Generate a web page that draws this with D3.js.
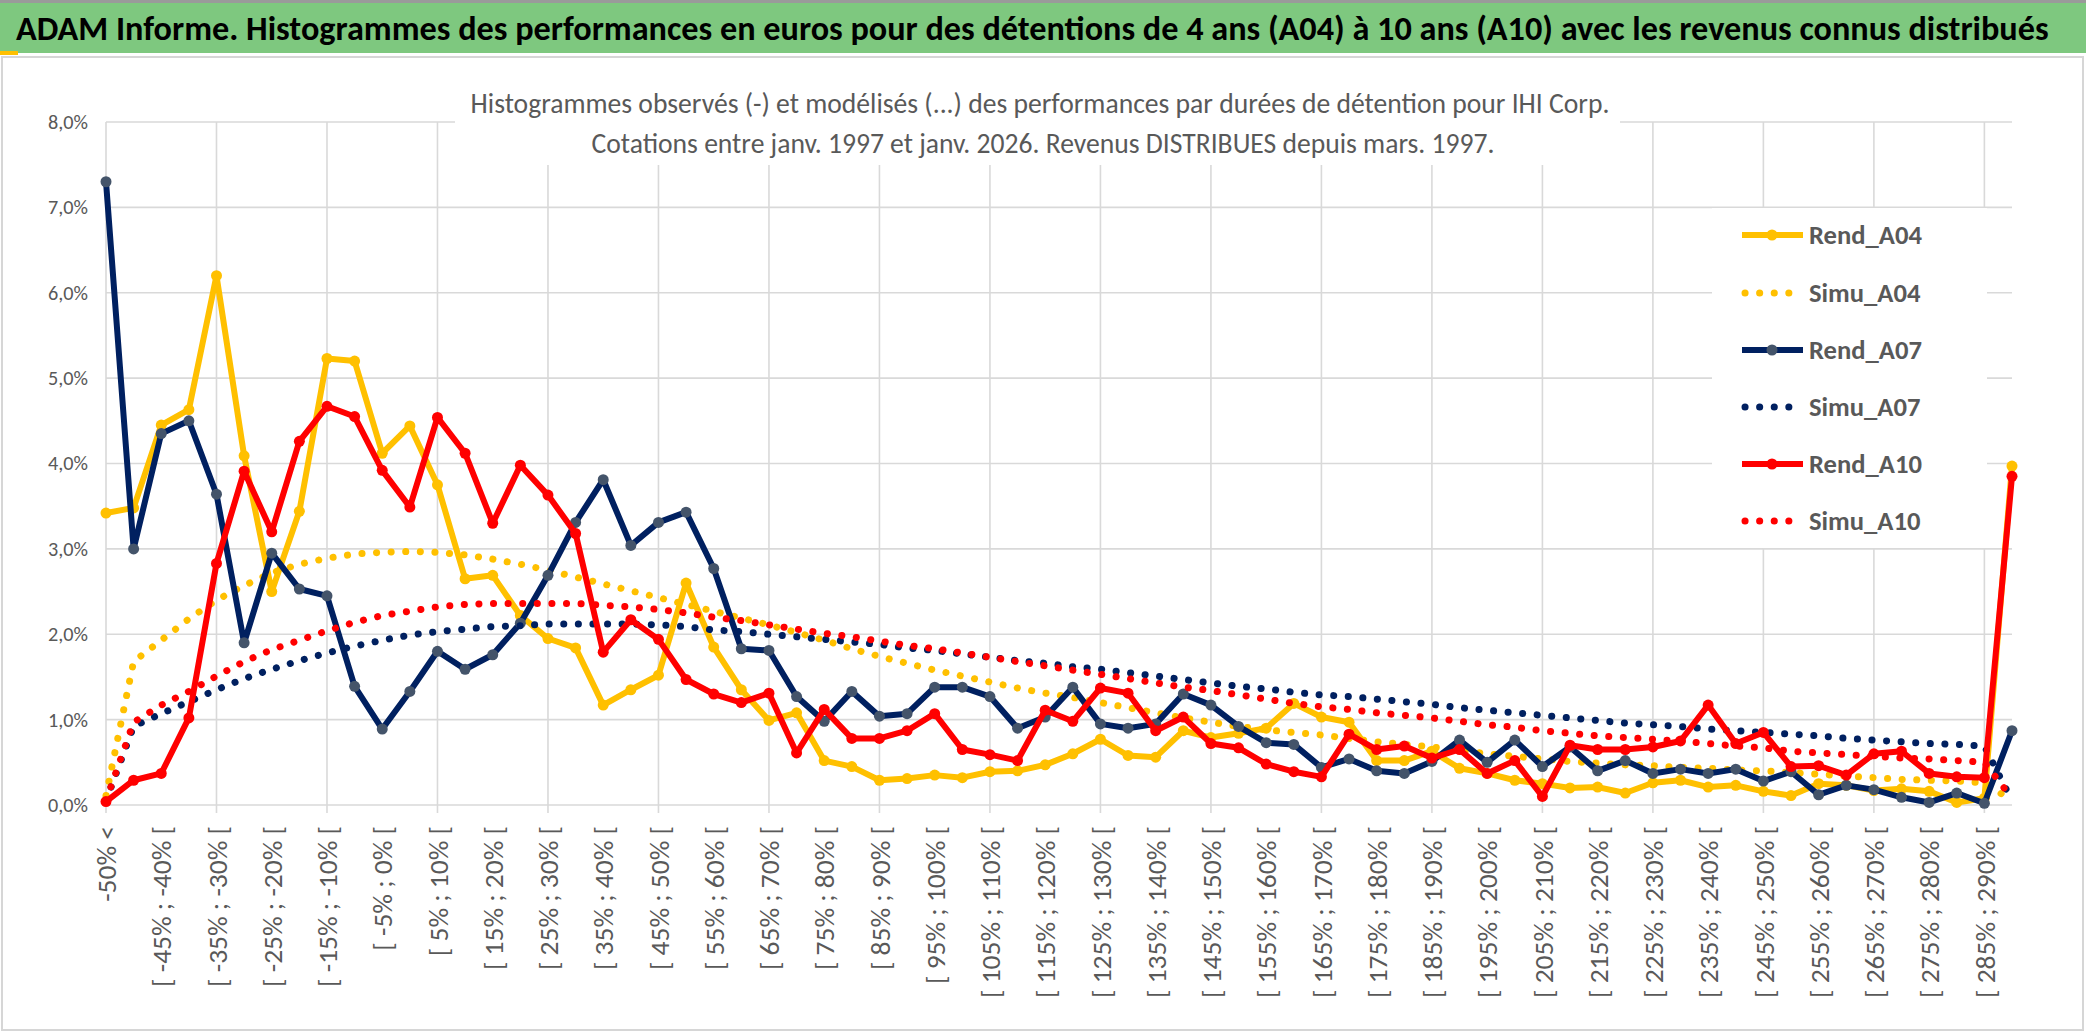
<!DOCTYPE html>
<html><head><meta charset="utf-8">
<script src="https://cdn.jsdelivr.net/npm/d3@7"></script>
<style>body{margin:0;background:#fff;} svg{display:block}</style>
</head><body>
<svg id="c" width="2086" height="1033"></svg>
<script>
const categories = ["-50% <","[ -50% ; -45% [","[ -45% ; -40% [","[ -40% ; -35% [","[ -35% ; -30% [","[ -30% ; -25% [","[ -25% ; -20% [","[ -20% ; -15% [","[ -15% ; -10% [","[ -10% ; -5% [",
"[ -5% ; 0% [","[ 0% ; 5% [","[ 5% ; 10% [","[ 10% ; 15% [","[ 15% ; 20% [","[ 20% ; 25% [","[ 25% ; 30% [","[ 30% ; 35% [","[ 35% ; 40% [","[ 40% ; 45% [",
"[ 45% ; 50% [","[ 50% ; 55% [","[ 55% ; 60% [","[ 60% ; 65% [","[ 65% ; 70% [","[ 70% ; 75% [","[ 75% ; 80% [","[ 80% ; 85% [","[ 85% ; 90% [","[ 90% ; 95% [",
"[ 95% ; 100% [","[ 100% ; 105% [","[ 105% ; 110% [","[ 110% ; 115% [","[ 115% ; 120% [","[ 120% ; 125% [","[ 125% ; 130% [","[ 130% ; 135% [","[ 135% ; 140% [","[ 140% ; 145% [",
"[ 145% ; 150% [","[ 150% ; 155% [","[ 155% ; 160% [","[ 160% ; 165% [","[ 165% ; 170% [","[ 170% ; 175% [","[ 175% ; 180% [","[ 180% ; 185% [","[ 185% ; 190% [","[ 190% ; 195% [",
"[ 195% ; 200% [","[ 200% ; 205% [","[ 205% ; 210% [","[ 210% ; 215% [","[ 215% ; 220% [","[ 220% ; 225% [","[ 225% ; 230% [","[ 230% ; 235% [","[ 235% ; 240% [","[ 240% ; 245% [",
"[ 245% ; 250% [","[ 250% ; 255% [","[ 255% ; 260% [","[ 260% ; 265% [","[ 265% ; 270% [","[ 270% ; 275% [","[ 275% ; 280% [","[ 280% ; 285% [","[ 285% ; 290% [","> 290%"];

const rendA04 = [3.42,3.48,4.45,4.63,6.20,4.09,2.50,3.44,5.23,5.20,
4.12,4.44,3.75,2.65,2.69,2.22,1.95,1.84,1.17,1.35,
1.52,2.60,1.85,1.35,0.99,1.08,0.52,0.45,0.29,0.31,
0.35,0.32,0.39,0.40,0.47,0.60,0.77,0.58,0.56,0.87,
0.79,0.84,0.90,1.19,1.03,0.97,0.52,0.52,0.63,0.43,
0.37,0.29,0.25,0.20,0.21,0.14,0.26,0.29,0.21,0.23,
0.16,0.11,0.25,0.23,0.17,0.19,0.16,0.03,0.08,3.97];
const simuA04 = [0.11,1.68,1.93,2.18,2.40,2.57,2.72,2.82,2.89,2.94,
2.96,2.97,2.96,2.93,2.88,2.82,2.75,2.67,2.59,2.51,
2.43,2.35,2.27,2.19,2.11,2.02,1.93,1.83,1.74,1.66,
1.58,1.51,1.44,1.37,1.31,1.26,1.20,1.14,1.08,1.02,
0.97,0.92,0.88,0.85,0.82,0.78,0.74,0.71,0.68,0.64,
0.60,0.57,0.54,0.51,0.49,0.47,0.46,0.44,0.43,0.41,
0.40,0.38,0.36,0.34,0.32,0.30,0.29,0.28,0.26,0.05];
const rendA07 = [7.30,3.00,4.35,4.50,3.64,1.90,2.95,2.53,2.45,1.39,
0.89,1.33,1.80,1.59,1.76,2.13,2.69,3.31,3.81,3.04,
3.31,3.43,2.77,1.83,1.81,1.27,0.98,1.33,1.04,1.07,
1.38,1.38,1.27,0.90,1.03,1.38,0.95,0.90,0.95,1.30,
1.17,0.92,0.73,0.71,0.44,0.54,0.40,0.37,0.51,0.76,
0.50,0.76,0.45,0.68,0.40,0.52,0.37,0.42,0.37,0.42,
0.28,0.39,0.12,0.23,0.18,0.09,0.03,0.14,0.02,0.87];
const simuA07 = [0.05,0.92,1.07,1.21,1.35,1.48,1.59,1.69,1.78,1.86,
1.93,1.99,2.03,2.06,2.09,2.10,2.12,2.12,2.12,2.12,
2.11,2.09,2.05,2.03,2.00,1.97,1.94,1.91,1.88,1.84,
1.81,1.77,1.73,1.69,1.66,1.62,1.59,1.55,1.51,1.47,
1.43,1.39,1.36,1.32,1.29,1.27,1.24,1.21,1.18,1.14,
1.11,1.08,1.05,1.02,0.99,0.96,0.94,0.92,0.89,0.87,
0.85,0.83,0.81,0.78,0.76,0.74,0.72,0.71,0.69,0.05];
const rendA10 = [0.04,0.29,0.37,1.02,2.83,3.91,3.20,4.26,4.67,4.55,
3.92,3.49,4.54,4.12,3.30,3.98,3.63,3.18,1.79,2.17,
1.94,1.47,1.30,1.20,1.31,0.61,1.12,0.78,0.78,0.87,
1.07,0.65,0.59,0.52,1.11,0.98,1.37,1.31,0.87,1.03,
0.72,0.67,0.48,0.39,0.33,0.83,0.65,0.69,0.55,0.65,
0.37,0.52,0.10,0.70,0.65,0.65,0.68,0.75,1.17,0.72,
0.85,0.45,0.46,0.35,0.60,0.63,0.37,0.33,0.32,3.85];
const simuA10 = [0.05,0.97,1.17,1.33,1.51,1.68,1.82,1.93,2.04,2.14,
2.22,2.27,2.32,2.35,2.36,2.36,2.36,2.36,2.34,2.32,
2.29,2.25,2.20,2.16,2.11,2.06,2.01,1.97,1.92,1.87,
1.83,1.78,1.73,1.68,1.63,1.58,1.53,1.48,1.43,1.38,
1.34,1.29,1.24,1.19,1.15,1.12,1.08,1.05,1.02,0.98,
0.94,0.91,0.87,0.84,0.81,0.79,0.77,0.75,0.72,0.69,
0.67,0.63,0.61,0.59,0.57,0.55,0.54,0.52,0.50,0.08];

const yTicks = [0,1,2,3,4,5,6,7,8];
const seriesNames = ["Rend_A04","Simu_A04","Rend_A07","Simu_A07","Rend_A10","Simu_A10"];
const titleText = "ADAM Informe. Histogrammes des performances en euros pour des détentions de 4 ans (A04) à 10 ans (A10) avec les revenus connus distribués";
const subtitle1 = "Histogrammes observés (-) et modélisés (...) des performances par durées de détention pour IHI Corp.";
const subtitle2 = "Cotations entre janv. 1997 et janv. 2026. Revenus DISTRIBUES depuis mars. 1997.";

const series = [
  {name: seriesNames[0], values: rendA04, color: "#FFC000", marker: "#FFC000", dotted: false},
  {name: seriesNames[1], values: simuA04, color: "#FFC000", dotted: true},
  {name: seriesNames[2], values: rendA07, color: "#002060", marker: "#44546A", dotted: false},
  {name: seriesNames[3], values: simuA07, color: "#002060", dotted: true},
  {name: seriesNames[4], values: rendA10, color: "#FF0000", marker: "#FF0000", dotted: false},
  {name: seriesNames[5], values: simuA10, color: "#FF0000", dotted: true}
];

const FONT = "Carlito, Calibri, Lato, 'Open Sans', sans-serif";
const TXT = "#595959";
const GRID = "#d9d9d9";
const svg = d3.select("#c");
const W = 2086, H = 1033;

function fit(sel, target) {
  const s = parseFloat(sel.attr("font-size"));
  const w = sel.node().getComputedTextLength();
  sel.attr("font-size", s * target / w);
  return s * target / w;
}

svg.append("rect").attr("width", W).attr("height", H).attr("fill", "#fff");
// top frame
svg.append("rect").attr("x", 0).attr("y", 0).attr("width", W).attr("height", 3).attr("fill", "#9a9a9a");
svg.append("rect").attr("x", 0).attr("y", 3).attr("width", W).attr("height", 50).attr("fill", "#7ec87f");
svg.append("rect").attr("x", 0).attr("y", 51).attr("width", 18).attr("height", 4).attr("fill", "#FFC000");
svg.append("rect").attr("x", 2).attr("y", 57).attr("width", W - 5).attr("height", H - 60)
  .attr("fill", "none").attr("stroke", "#d6d6d6").attr("stroke-width", 2);

const title = svg.append("text").attr("x", 16).attr("y", 40).attr("font-family", FONT)
  .attr("font-weight", "bold").attr("font-size", 34).attr("fill", "#000").text(titleText);
fit(title, 2033);

// scales
const x = d3.scalePoint().domain(d3.range(categories.length)).range([106, 2012]);
const y = d3.scaleLinear().domain([0, 8]).range([805, 122]);

// gridlines
const grid = svg.append("g");
grid.selectAll("line.h").data(yTicks).join("line")
  .attr("x1", 106).attr("x2", 2012).attr("y1", d => y(d)).attr("y2", d => y(d))
  .attr("stroke", GRID).attr("stroke-width", 1.6);
const vIdx = d3.range(0, categories.length, 4);
grid.selectAll("line.v").data(vIdx).join("line")
  .attr("x1", d => x(d)).attr("x2", d => x(d)).attr("y1", y(8)).attr("y2", y(0) + 8)
  .attr("stroke", GRID).attr("stroke-width", 1.6);

// chart title box
svg.append("rect").attr("x", 455).attr("y", 70).attr("width", 1165).attr("height", 95).attr("fill", "#fff");
const st1 = svg.append("text").attr("x", 1040).attr("y", 113).attr("text-anchor", "middle")
  .attr("font-family", FONT).attr("font-size", 26).attr("fill", TXT).text(subtitle1);
const fs = fit(st1, 1139);
svg.append("text").attr("x", 1043).attr("y", 153).attr("text-anchor", "middle")
  .attr("font-family", FONT).attr("font-size", fs).attr("fill", TXT).text(subtitle2);

// y axis labels
const yAxis = d3.axisLeft(y).tickValues(yTicks)
  .tickFormat(d => d.toFixed(1).replace(".", ",") + "%").tickSize(0).tickPadding(18);
const gy = svg.append("g").attr("transform", "translate(106,0)").call(yAxis);
gy.select(".domain").remove();
gy.attr("font-size", null).attr("font-family", null);
gy.selectAll("text").attr("font-family", FONT).attr("fill", TXT).attr("font-size", 22);
const yfs = fit(gy.selectAll("text").filter(d => d === 8), 40);
gy.selectAll("text").attr("font-size", yfs);

// x axis labels
const xAxis = d3.axisBottom(x).tickValues(d3.range(0, categories.length, 2))
  .tickFormat(i => categories[i]).tickSize(0);
const gx = svg.append("g").attr("transform", `translate(0,${y(0)})`).call(xAxis);
gx.select(".domain").remove();
gx.attr("font-size", null).attr("font-family", null);
gx.selectAll("text").attr("font-family", FONT).attr("fill", TXT).attr("font-size", 22)
  .attr("transform", "rotate(-90)").attr("text-anchor", "end")
  .attr("x", -21).attr("y", 0).attr("dy", "0.35em");
const xfs = fit(gx.selectAll("text").filter(d => d === 60), 172);
gx.selectAll("text").attr("font-size", xfs);

// series
const line = d3.line().x((d, i) => x(i)).y(d => y(d));
const gs = svg.append("g");
series.forEach(s => {
  const g = gs.append("g");
  if (s.dotted) {
    g.append("path").datum(s.values).attr("d", line).attr("fill", "none")
      .attr("stroke", s.color).attr("stroke-width", 7).attr("stroke-linecap", "round")
      .attr("stroke-dasharray", "0.1 14.5");
  } else {
    g.append("path").datum(s.values).attr("d", line).attr("fill", "none")
      .attr("stroke", s.color).attr("stroke-width", 6).attr("stroke-linejoin", "round");
    g.selectAll("circle").data(s.values).join("circle")
      .attr("cx", (d, i) => x(i)).attr("cy", d => y(d)).attr("r", 5.5)
      .attr("fill", s.marker);
  }
});

// legend
const lg = svg.append("g");
lg.append("rect").attr("x", 1712).attr("y", 208).attr("width", 275).attr("height", 340).attr("fill", "#fff");
const rowY = [235, 293, 350, 407, 464, 521];
series.forEach((s, k) => {
  const yy = rowY[k];
  if (s.dotted) {
    lg.append("line").attr("x1", 1745).attr("x2", 1800).attr("y1", yy).attr("y2", yy)
      .attr("stroke", s.color).attr("stroke-width", 7).attr("stroke-linecap", "round")
      .attr("stroke-dasharray", "0.1 14.5");
  } else {
    lg.append("line").attr("x1", 1742).attr("x2", 1803).attr("y1", yy).attr("y2", yy)
      .attr("stroke", s.color).attr("stroke-width", 6);
    lg.append("circle").attr("cx", 1772).attr("cy", yy).attr("r", 5.5).attr("fill", s.marker);
  }
  lg.append("text").attr("class", "lt").attr("x", 1809).attr("y", yy).attr("dy", "0.35em")
    .attr("font-family", FONT).attr("font-weight", "bold").attr("font-size", 26)
    .attr("fill", TXT).text(s.name);
});
const lfs = fit(lg.selectAll("text.lt").filter((d, i) => i === 0), 113);
lg.selectAll("text.lt").attr("font-size", lfs);
</script>
</body></html>
